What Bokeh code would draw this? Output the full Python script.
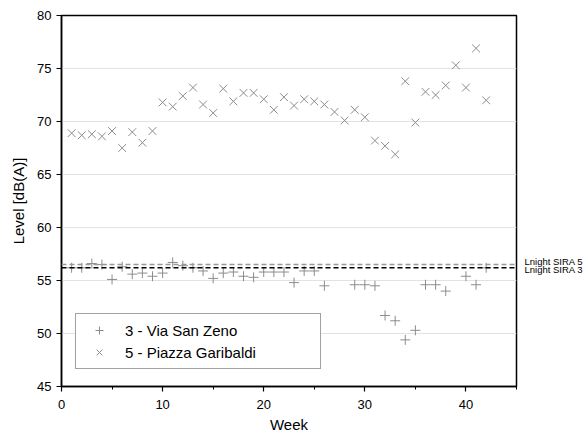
from bokeh.plotting import figure
from bokeh.models import Range1d, Span, Legend, LegendItem, FixedTicker, LinearAxis
from bokeh.embed import file_html
from bokeh.resources import INLINE

# Series 3 - Via San Zeno (+)
weeks3 = [1, 2, 3, 4, 5, 6, 7, 8, 9, 10, 11, 12, 13, 14, 15, 16, 17, 18, 19, 20,
          21, 22, 23, 24, 25, 26, 29, 30, 31, 32, 33, 34, 35, 36, 37, 38, 40, 41, 42]
level3 = [56.2, 56.2, 56.6, 56.5, 55.1, 56.3, 55.6, 55.7, 55.4, 55.7, 56.7, 56.4, 56.2,
          55.9, 55.2, 55.7, 55.8, 55.4, 55.3, 55.8, 55.8, 55.8, 54.8, 55.9, 55.9, 54.5,
          54.6, 54.6, 54.5, 51.7, 51.2, 49.4, 50.3, 54.6, 54.6, 54.0, 55.4, 54.6, 56.2]

# Series 5 - Piazza Garibaldi (x)
weeks5 = list(range(1, 43))
level5 = [68.9, 68.7, 68.8, 68.6, 69.1, 67.5, 69.0, 68.0, 69.1, 71.8, 71.4, 72.4, 73.2,
          71.6, 70.8, 73.1, 71.9, 72.7, 72.7, 72.1, 71.1, 72.3, 71.5, 72.1, 71.9, 71.6,
          70.9, 70.1, 71.1, 70.4, 68.2, 67.7, 66.9, 73.8, 69.9, 72.8, 72.5, 73.4, 75.3,
          73.2, 76.9, 72.0]

# Night limits (SIRA)
lnight_sira5 = 56.5
lnight_sira3 = 56.2
sira_sites = [5, 3]
sira_labels = ["Lnight SIRA 5", "Lnight SIRA 3"]

x_ticks = [0, 10, 20, 30, 40]
x_minor = [5, 15, 25, 35, 45]
y_ticks = [45, 50, 55, 60, 65, 70, 75, 80]

FONT = "Liberation Sans"

p = figure(width=586, height=444, output_backend="svg", toolbar_location=None,
           x_range=Range1d(0, 45), y_range=Range1d(45, 80),
           min_border_left=61, min_border_top=15, min_border_right=68, min_border_bottom=58)

p.background_fill_color = "white"
p.border_fill_color = "white"
p.outline_line_color = "black"
p.outline_line_width = 1.5

p.xgrid.visible = False
p.ygrid.grid_line_color = "#e2e2e2"
p.ygrid.grid_line_width = 1

for ax in (p.xaxis, p.yaxis):
    ax.axis_line_color = "black"
    ax.axis_line_width = 1.5
    ax.major_tick_line_color = "black"
    ax.major_tick_line_width = 1.2
    ax.minor_tick_line_color = "black"
    ax.major_tick_in = 0
    ax.major_tick_out = 5
    ax.minor_tick_in = 0
    ax.minor_tick_out = 3
    ax.major_label_text_font = FONT
    ax.major_label_text_font_size = "13px"
    ax.major_label_text_color = "black"
    ax.axis_label_text_font = FONT
    ax.axis_label_text_font_size = "15px"
    ax.axis_label_text_font_style = "normal"
    ax.axis_label_text_color = "black"

p.xaxis.ticker = FixedTicker(ticks=x_ticks, minor_ticks=x_minor)
p.yaxis.ticker = FixedTicker(ticks=y_ticks, minor_ticks=[])
p.xaxis.axis_label = "Week"
p.yaxis.axis_label = "Level [dB(A)]"
p.xaxis.major_label_standoff = 8
p.xaxis.axis_label_standoff = 4
p.yaxis.axis_label_standoff = 7

# Reference lines
p.add_layout(Span(location=lnight_sira5, dimension="width", line_color="#999999",
                  line_width=1.5, line_dash="5 3"))
p.add_layout(Span(location=lnight_sira3, dimension="width", line_color="black",
                  line_width=1.5, line_dash="5 3"))

# Right-hand labels for the reference lines (axis outside the frame)
p.extra_y_ranges = {"sira": Range1d(-24.525, 62.975)}
rax = LinearAxis(y_range_name="sira",
                 ticker=FixedTicker(ticks=sira_sites, minor_ticks=[]),
                 major_label_overrides={s: t for s, t in zip(sira_sites, sira_labels)},
                 axis_line_color=None, major_tick_line_color=None,
                 minor_tick_line_color=None, major_tick_out=0, major_tick_in=0,
                 major_label_standoff=8, major_label_text_font=FONT,
                 major_label_text_font_size="9.5px", major_label_text_color="black")
p.add_layout(rax, "right")

r3 = p.scatter(weeks3, level3, marker="cross", size=10, line_color="#8c8c8c",
               line_width=1, fill_color=None)
r5 = p.scatter(weeks5, level5, marker="x", size=11, line_color="#8c8c8c",
               line_width=1, fill_color=None)

legend = Legend(items=[LegendItem(label="3 - Via San Zeno", renderers=[r3]),
                       LegendItem(label="5 - Piazza Garibaldi", renderers=[r5])],
                location=(14, 17), padding=6, spacing=2, margin=0,
                glyph_width=34, glyph_height=20, label_height=20, label_width=189,
                label_standoff=9, label_text_font=FONT, label_text_font_size="15px",
                label_text_color="black", border_line_color="#444444",
                border_line_width=1.2, background_fill_alpha=1)
p.add_layout(legend)

open("out.html", "w").write(file_html(p, INLINE))
